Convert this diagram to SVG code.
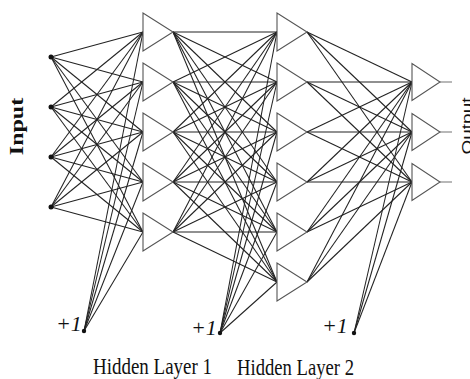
<svg xmlns="http://www.w3.org/2000/svg" width="470" height="379" viewBox="0 0 470 379">
<style>
.c line{stroke:#222;stroke-width:1.05}
.c .stub{stroke:#777}
.tri{fill:#fff;stroke:#555;stroke-width:1.1}
.dot{fill:#111}
.lbl{font-family:"Liberation Serif",serif;fill:#111}
.bias{font-family:"Liberation Serif",serif;font-style:italic;font-size:22px;fill:#111}
</style>
<rect width="470" height="379" fill="#fff"/>
<g id="connectors" class="c">
<line x1="51" y1="57" x2="143" y2="32"/><line x1="51" y1="57" x2="143" y2="82"/><line x1="51" y1="57" x2="143" y2="132"/><line x1="51" y1="57" x2="143" y2="182"/><line x1="51" y1="57" x2="143" y2="232"/>
<line x1="51" y1="107" x2="143" y2="32"/><line x1="51" y1="107" x2="143" y2="82"/><line x1="51" y1="107" x2="143" y2="132"/><line x1="51" y1="107" x2="143" y2="182"/><line x1="51" y1="107" x2="143" y2="232"/>
<line x1="51" y1="157" x2="143" y2="32"/><line x1="51" y1="157" x2="143" y2="82"/><line x1="51" y1="157" x2="143" y2="132"/><line x1="51" y1="157" x2="143" y2="182"/><line x1="51" y1="157" x2="143" y2="232"/>
<line x1="51" y1="207" x2="143" y2="32"/><line x1="51" y1="207" x2="143" y2="82"/><line x1="51" y1="207" x2="143" y2="132"/><line x1="51" y1="207" x2="143" y2="182"/><line x1="51" y1="207" x2="143" y2="232"/>
<line x1="84" y1="331" x2="143" y2="32"/><line x1="84" y1="331" x2="143" y2="82"/><line x1="84" y1="331" x2="143" y2="132"/><line x1="84" y1="331" x2="143" y2="182"/><line x1="84" y1="331" x2="143" y2="232"/>
<line x1="173" y1="32" x2="277" y2="32"/><line x1="173" y1="32" x2="277" y2="82"/><line x1="173" y1="32" x2="277" y2="132"/><line x1="173" y1="32" x2="277" y2="182"/><line x1="173" y1="32" x2="277" y2="232"/><line x1="173" y1="32" x2="277" y2="282"/>
<line x1="173" y1="82" x2="277" y2="32"/><line x1="173" y1="82" x2="277" y2="82"/><line x1="173" y1="82" x2="277" y2="132"/><line x1="173" y1="82" x2="277" y2="182"/><line x1="173" y1="82" x2="277" y2="232"/><line x1="173" y1="82" x2="277" y2="282"/>
<line x1="173" y1="132" x2="277" y2="32"/><line x1="173" y1="132" x2="277" y2="82"/><line x1="173" y1="132" x2="277" y2="132"/><line x1="173" y1="132" x2="277" y2="182"/><line x1="173" y1="132" x2="277" y2="232"/><line x1="173" y1="132" x2="277" y2="282"/>
<line x1="173" y1="182" x2="277" y2="32"/><line x1="173" y1="182" x2="277" y2="82"/><line x1="173" y1="182" x2="277" y2="132"/><line x1="173" y1="182" x2="277" y2="182"/><line x1="173" y1="182" x2="277" y2="232"/><line x1="173" y1="182" x2="277" y2="282"/>
<line x1="173" y1="232" x2="277" y2="32"/><line x1="173" y1="232" x2="277" y2="82"/><line x1="173" y1="232" x2="277" y2="132"/><line x1="173" y1="232" x2="277" y2="182"/><line x1="173" y1="232" x2="277" y2="232"/><line x1="173" y1="232" x2="277" y2="282"/>
<line x1="220" y1="333" x2="277" y2="32"/><line x1="220" y1="333" x2="277" y2="82"/><line x1="220" y1="333" x2="277" y2="132"/><line x1="220" y1="333" x2="277" y2="182"/><line x1="220" y1="333" x2="277" y2="232"/><line x1="220" y1="333" x2="277" y2="282"/>
<line x1="307" y1="32" x2="412" y2="82"/><line x1="307" y1="32" x2="412" y2="132"/><line x1="307" y1="32" x2="412" y2="182"/>
<line x1="307" y1="82" x2="412" y2="82"/><line x1="307" y1="82" x2="412" y2="132"/><line x1="307" y1="82" x2="412" y2="182"/>
<line x1="307" y1="132" x2="412" y2="82"/><line x1="307" y1="132" x2="412" y2="132"/><line x1="307" y1="132" x2="412" y2="182"/>
<line x1="307" y1="182" x2="412" y2="82"/><line x1="307" y1="182" x2="412" y2="132"/><line x1="307" y1="182" x2="412" y2="182"/>
<line x1="307" y1="232" x2="412" y2="82"/><line x1="307" y1="232" x2="412" y2="132"/><line x1="307" y1="232" x2="412" y2="182"/>
<line x1="307" y1="282" x2="412" y2="82"/><line x1="307" y1="282" x2="412" y2="132"/><line x1="307" y1="282" x2="412" y2="182"/>
<line x1="354" y1="333" x2="412" y2="82"/><line x1="354" y1="333" x2="412" y2="132"/><line x1="354" y1="333" x2="412" y2="182"/>
<line class="stub" x1="440" y1="82" x2="452" y2="82"/><line class="stub" x1="440" y1="132" x2="452" y2="132"/><line class="stub" x1="440" y1="182" x2="452" y2="182"/>
</g>
<g id="input-nodes">
<g id="in1"><circle class="dot" cx="51" cy="57" r="2.5"/></g>
<g id="in2"><circle class="dot" cx="51" cy="107" r="2.5"/></g>
<g id="in3"><circle class="dot" cx="51" cy="157" r="2.5"/></g>
<g id="in4"><circle class="dot" cx="51" cy="207" r="2.5"/></g>
</g>
<g id="hidden1">
<g id="h1n1"><polygon class="tri" points="143,13 143,51 173,32"/></g>
<g id="h1n2"><polygon class="tri" points="143,63 143,101 173,82"/></g>
<g id="h1n3"><polygon class="tri" points="143,113 143,151 173,132"/></g>
<g id="h1n4"><polygon class="tri" points="143,163 143,201 173,182"/></g>
<g id="h1n5"><polygon class="tri" points="143,213 143,251 173,232"/></g>
</g>
<g id="hidden2">
<g id="h2n1"><polygon class="tri" points="277,13 277,51 307,32"/></g>
<g id="h2n2"><polygon class="tri" points="277,63 277,101 307,82"/></g>
<g id="h2n3"><polygon class="tri" points="277,113 277,151 307,132"/></g>
<g id="h2n4"><polygon class="tri" points="277,163 277,201 307,182"/></g>
<g id="h2n5"><polygon class="tri" points="277,213 277,251 307,232"/></g>
<g id="h2n6"><polygon class="tri" points="277,263 277,301 307,282"/></g>
</g>
<g id="output">
<g id="on1"><polygon class="tri" points="412,63.5 412,100.5 440,82"/></g>
<g id="on2"><polygon class="tri" points="412,113.5 412,150.5 440,132"/></g>
<g id="on3"><polygon class="tri" points="412,163.5 412,200.5 440,182"/></g>
</g>
<g id="bias1"><circle class="dot" cx="84" cy="331" r="2.2"/><text class="bias" x="56" y="331">+1</text></g>
<g id="bias2"><circle class="dot" cx="220" cy="333" r="2.2"/><text class="bias" x="191" y="335">+1</text></g>
<g id="bias3"><circle class="dot" cx="354" cy="333" r="2.2"/><text class="bias" x="322" y="333">+1</text></g>
<text class="lbl" transform="translate(23,126.5) scale(0.8,1) rotate(-90)" text-anchor="middle" font-weight="bold" font-size="24">Input</text>
<text transform="translate(472,126) scale(0.8,1) rotate(-90)" text-anchor="middle" font-family="Liberation Sans, sans-serif" font-size="19" fill="#111">Output</text>
<text class="lbl" x="93" y="374" font-size="24" textLength="119" lengthAdjust="spacingAndGlyphs">Hidden Layer 1</text>
<text class="lbl" x="237" y="375" font-size="24" textLength="117" lengthAdjust="spacingAndGlyphs">Hidden Layer 2</text>
</svg>
